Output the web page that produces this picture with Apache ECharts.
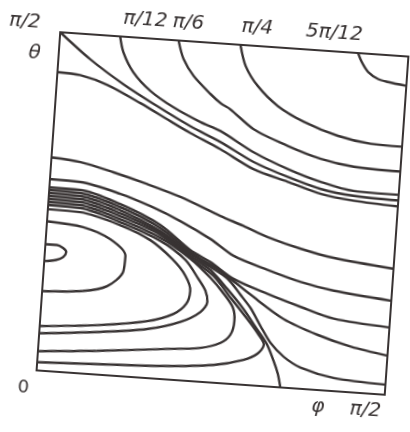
<!DOCTYPE html>
<html>
<head>
<meta charset="utf-8">
<script src="https://cdn.jsdelivr.net/npm/echarts@6/dist/echarts.min.js"></script>
<style>
html, body { margin: 0; padding: 0; background: #fff; overflow: hidden; width: 410px; height: 432px; position: relative; }
/* 原图扫描时略有倾斜，整体旋转约 4 度；画布放大一些，避免旋转后角落被裁掉 */
#phaseChart {
  position: absolute;
  left: -20px;
  top: -19px;
  width: 450px;
  height: 470px;
  transform-origin: 242.75px 232.25px;
  transform: rotate(4deg);
}
</style>
</head>
<body>
<div id="phaseChart"></div>
<script>
// 坐标单位：度，0..90 对应 0..π/2，每条数据为 [phi, theta]
var trajPi12 = [[15.5,90],[16.6,85.9],[19.5,80.8],[24.3,76.1],[30.5,72.2],[37.7,68.8],[43.0,66.8],[51.9,61.8],[61.0,58.0],[69.7,55.2],[78.4,53.4],[90,53.2]];
var trajPi6 = [[30.6,90],[32.2,85.2],[35.1,80.9],[39.8,76.4],[42.5,74.2],[45.2,72.7],[51.5,67.9],[60.6,64.1],[69.3,61.3],[78.0,59.8],[90,59.4]];
var trajPi4 = [[46.6,90],[48.3,84.5],[51.8,79.4],[57.3,74.5],[64.3,70.8],[73.3,67.7],[81.9,66.2],[90,66.0]];
var traj5Pi12 = [[77,90],[78.1,87.7],[79.9,85.2],[82.6,83.5],[85.2,82.9],[90,82.2]];
var trajCorner = [[0,90],[8.2,83.4],[17.2,77.4],[26.3,72.2],[35.2,67.5],[43.2,63.9],[52.1,59.2],[61.1,55.9],[69.9,53.3],[78.5,52.1],[90,51.7]];
var trajUpper = [[0,79.4],[5.9,79.0],[13.1,76.9],[21.9,72.7],[30.8,68.0],[35.3,65.7],[43.3,62.0],[52.2,57.3],[61.2,54.6],[70.0,52.0],[78.6,50.8],[90,50.1]];
var trajA = [[0,56.7],[7.5,56.0],[16.2,53.9],[25.1,51.4],[33.9,48.6],[44.5,44.3],[50.6,42.1],[57.0,39.6],[65.8,37.1],[74.4,35.3],[90,33.5]];
var trajB = [[0,50.9],[7.8,50.7],[18.4,48.3],[26.3,45.6],[34.3,42.2],[42.4,38.0],[48.6,34.0],[57.6,30.9],[66.4,28.3],[75.0,26.6],[90,25.0]];
var trajC1 = [[0,48.7],[8.0,48.6],[18.5,45.6],[29.2,40.8],[37.4,34.7],[42.8,31.9],[49.0,27.9],[58.1,24.5],[66.8,21.7],[75.5,19.2],[90,17.9]];
var trajC2 = [[0,48.0],[8.0,47.8],[18.6,44.8],[29.3,40.0],[37.4,34.2],[45.5,29.7],[53.7,24.0],[62.6,18.2],[71.7,14.6],[80.4,12.1],[90,10.4]];
var trajR1 = [[0,47.2],[8.1,47.0],[18.6,44.0],[29.3,39.2],[37.5,33.7],[42.9,30.6],[47.5,27.8],[51.1,23.8],[53.9,20.5],[56.8,15.9],[59.7,11.6],[63.3,8.2],[67.9,5.6],[76.6,3.5],[90,2.7]];
// 分界线，落到下边界
var trajSep = [[0,46.4],[8.1,46.2],[18.7,43.2],[29.4,38.7],[37.5,33.2],[42.9,29.8],[47.6,25.1],[52.1,20.1],[55.5,15.6],[58.7,11.3],[60.8,6.9],[62.1,3.6],[63.0,0]];
// 左侧的闭合轨线（由外到内）
var loop6 = [[0,45.6],[8.2,45.4],[18.8,42.4],[29.4,38.2],[37.6,32.6],[43.8,28.3],[48.8,22.6],[53.2,17.6],[56.3,13.8],[58.0,11.0],[56.5,8.5],[53.0,6.6],[45.4,4.7],[32.5,3.5],[15.5,2.8],[0,2.2]];
var loop5 = [[0,44.8],[8.2,44.6],[18.8,41.6],[29.5,37.4],[37.6,32.4],[43.1,27.7],[46.4,24.2],[49.3,20.4],[50.0,16.8],[49.2,13.0],[46.8,10.7],[41.7,9.0],[32.2,8.0],[15.2,6.3],[0,5.1]];
var loop4 = [[0,44.0],[8.3,43.8],[18.9,40.8],[29.5,36.6],[36.3,32.0],[40.0,27.2],[42.0,24.2],[42.7,21.3],[41.1,18.5],[36.1,15.5],[27.7,13.0],[14.9,11.3],[0,9.9]];
var loop3 = [[0,42.9],[8.4,42.7],[18.9,40.0],[26.9,36.6],[32.9,32.0],[36.6,27.8],[38.1,23.9],[37.3,20.4],[34.2,17.5],[27.6,15.1],[14.8,13.1],[0,11.8]];
var loop2 = [[0,39.7],[9.4,38.8],[16.6,36.1],[20.8,31.9],[20.5,27.7],[16.6,23.6],[10.5,21.9],[0,21.1]];
var loop1 = [[0,33.6],[3.0,33.6],[4.6,32.9],[5.5,31.9],[4.8,30.5],[3.0,29.6],[0,29.1]];

// 刻度文字
var topLabelPos = [21.7, 32.8, 50.6, 70.5];
var topTickLabels = ['π/12', 'π/6', 'π/4', '5π/12'];
var bottomLabelPos = [73, 85.3];
var bottomTickLabels = ['φ', 'π/2'];
var leftLabelPos = [84];
var leftTickLabels = ['θ'];

var inkColor = '#383333';
var labelFont = 'DejaVu Sans';

var allCurves = [trajPi12, trajPi6, trajPi4, traj5Pi12, trajCorner, trajUpper, trajA, trajB,
  trajC1, trajC2, trajR1, trajSep, loop6, loop5, loop4, loop3, loop2, loop1];

function pickLabel(posList, textList) {
  return function (value) {
    var i = posList.indexOf(value);
    return i >= 0 ? textList[i] : '';
  };
}

var labelStyle = {
  color: inkColor,
  fontFamily: labelFont,
  fontStyle: 'italic',
  fontSize: 20
};

var option = {
  animation: false,
  backgroundColor: '#fff',
  grid: {
    left: 68,
    top: 63,
    width: 349,
    height: 339,
    show: true,
    borderColor: inkColor,
    borderWidth: 2,
    backgroundColor: 'transparent',
    containLabel: false,
    outerBoundsMode: 'none'
  },
  xAxis: [
    {
      type: 'value',
      position: 'bottom',
      min: 0,
      max: 90,
      axisLine: { show: false },
      axisTick: { show: false },
      splitLine: { show: false },
      axisLabel: Object.assign({
        customValues: bottomLabelPos,
        margin: 7,
        formatter: pickLabel(bottomLabelPos, bottomTickLabels)
      }, labelStyle)
    },
    {
      type: 'value',
      position: 'top',
      min: 0,
      max: 90,
      axisLine: { show: false },
      axisTick: { show: false },
      splitLine: { show: false },
      axisLabel: Object.assign({
        customValues: topLabelPos,
        margin: 8,
        formatter: pickLabel(topLabelPos, topTickLabels)
      }, labelStyle)
    }
  ],
  yAxis: {
    type: 'value',
    min: 0,
    max: 90,
    axisLine: { show: false },
    axisTick: { show: false },
    splitLine: { show: false },
    axisLabel: Object.assign({
      customValues: leftLabelPos,
      margin: 18,
      formatter: pickLabel(leftLabelPos, leftTickLabels)
    }, labelStyle)
  },
  graphic: [
    {
      type: 'text',
      x: 32,
      y: 55,
      style: { text: 'π/2', fill: inkColor, font: 'italic 20px ' + labelFont, align: 'center', verticalAlign: 'middle' }
    },
    {
      type: 'text',
      x: 56,
      y: 420,
      style: { text: '0', fill: inkColor, font: '18px ' + labelFont, align: 'center', verticalAlign: 'middle' }
    }
  ],
  series: allCurves.map(function (curve) {
    return {
      type: 'line',
      xAxisIndex: 0,
      data: curve,
      showSymbol: false,
      smooth: 0.3,
      silent: true,
      lineStyle: { color: inkColor, width: 2.4 }
    };
  })
};

var myChart = echarts.init(document.getElementById('phaseChart'));
myChart.setOption(option);
</script>
</body>
</html>
